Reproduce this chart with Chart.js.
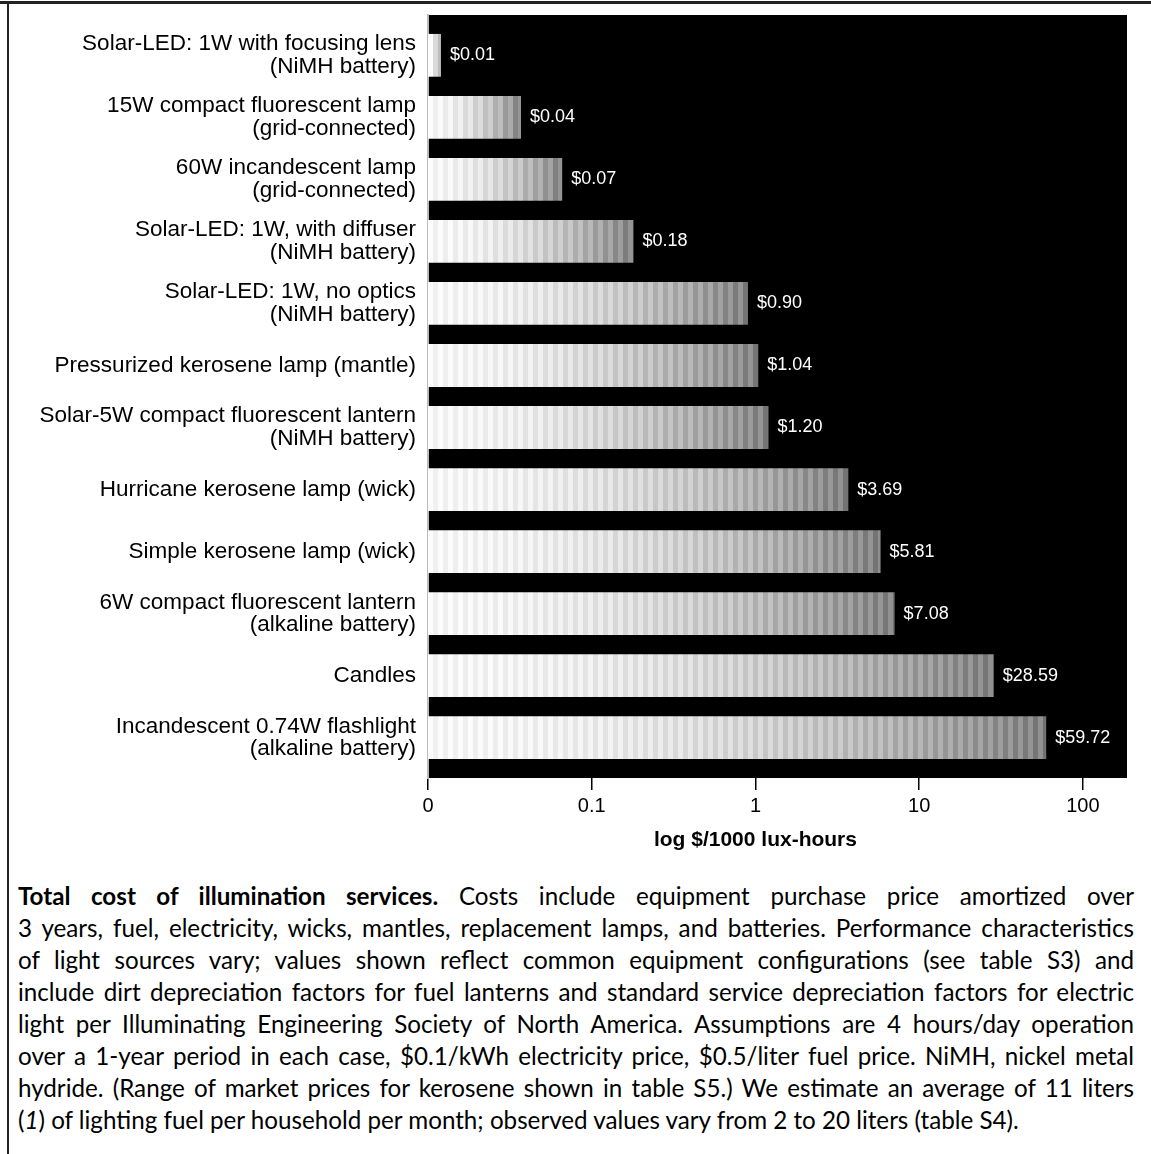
<!DOCTYPE html>
<html>
<head>
<meta charset="utf-8">
<script src="https://cdn.jsdelivr.net/npm/chart.js@4.4.1/dist/chart.umd.min.js"></script>
<style>
  html, body { margin: 0; padding: 0; background: #fff; }
  #page { position: relative; width: 1151px; height: 1154px; overflow: hidden; }
  #frameTop { position: absolute; left: 0; top: 1px; width: 1151px; height: 3px; background: #222; }
  #frameLeft { position: absolute; left: 7px; top: 1px; width: 2px; height: 1153px; background: #222; }
  #myChart { position: absolute; left: 0; top: 0; }
  #caption { position: absolute; left: 18px; top: 880px; width: 1116px;
    font-family: Lato, 'Open Sans', sans-serif; font-size: 24.2px; line-height: 32px; color: #000; }
  #caption div { text-align: justify; text-align-last: justify; white-space: nowrap; }
  #caption div.last { text-align-last: left; }
</style>
</head>
<body>
<div id="page">
  <div id="frameTop"></div>
  <div id="frameLeft"></div>
  <canvas id="myChart" width="1151" height="870"></canvas>
  <div id="caption">
    <div><b>Total cost of illumination services.</b> Costs include equipment purchase price amortized over</div>
    <div>3 years, fuel, electricity, wicks, mantles, replacement lamps, and batteries. Performance characteristics</div>
    <div>of light sources vary; values shown reflect common equipment configurations (see table S3) and</div>
    <div>include dirt depreciation factors for fuel lanterns and standard service depreciation factors for electric</div>
    <div>light per Illuminating Engineering Society of North America. Assumptions are 4 hours/day operation</div>
    <div>over a 1-year period in each case, $0.1/kWh electricity price, $0.5/liter fuel price. NiMH, nickel metal</div>
    <div>hydride. (Range of market prices for kerosene shown in table S5.) We estimate an average of 11 liters</div>
    <div class="last">(<i>1</i>) of lighting fuel per household per month; observed values vary from 2 to 20 liters (table S4).</div>
  </div>
</div>
<script>
const categories = [
    ['Solar-LED: 1W with focusing lens', '(NiMH battery)'],
    ['15W compact fluorescent lamp', '(grid-connected)'],
    ['60W incandescent lamp', '(grid-connected)'],
    ['Solar-LED: 1W, with diffuser', '(NiMH battery)'],
    ['Solar-LED: 1W, no optics', '(NiMH battery)'],
    'Pressurized kerosene lamp (mantle)',
    ['Solar-5W compact fluorescent lantern', '(NiMH battery)'],
    'Hurricane kerosene lamp (wick)',
    'Simple kerosene lamp (wick)',
    ['6W compact fluorescent lantern', '(alkaline battery)'],
    'Candles',
    ['Incandescent 0.74W flashlight', '(alkaline battery)']
];
// $ per 1000 lux-hours (bar ends, labels printed as $x.xx)
const costs = [0.012, 0.037, 0.066, 0.18, 0.90, 1.04, 1.20, 3.69, 5.81, 7.08, 28.59, 59.72];
const tickValues = [0.01, 0.1, 1, 10, 100];
const tickLabels = ['0', '0.1', '1', '10', '100'];
const axisTitle = 'log $/1000 lux-hours';

Chart.defaults.font.family = "'Liberation Sans', Arial, sans-serif";
Chart.defaults.color = '#000';

// striped grey fill, white at the left going darker toward the bar end
function barFill(ctx) {
    const chart = ctx.chart;
    const xs = chart.scales.x;
    if (!chart.chartArea || !xs || !ctx.raw) return '#ccc';
    const x0 = xs.getPixelForValue(xs.min);
    const x1 = xs.getPixelForValue(ctx.raw.x);
    const w = Math.max(x1 - x0, 1);
    const g = chart.ctx.createLinearGradient(x0, 0, x1, 0);
    const step = 5;
    for (let p = 0, k = 0; p < w; p += step, k++) {
        const t = p / w;
        let v = 246 - 110 * t * t;
        v += (k % 2) ? -18 * t - 6 : 6;
        v = Math.max(0, Math.min(255, Math.round(v)));
        const c = 'rgb(' + v + ',' + v + ',' + v + ')';
        g.addColorStop(Math.min(p / w, 1), c);
        g.addColorStop(Math.min((p + step) / w, 1), c);
    }
    return g;
}

const plotBackground = {
    id: 'plotBackground',
    beforeDraw(chart) {
        const a = chart.chartArea;
        const c = chart.ctx;
        c.save();
        c.fillStyle = '#000';
        c.fillRect(a.left, a.top, a.right - a.left, a.bottom - a.top);
        c.restore();
    }
};

const valueLabels = {
    id: 'valueLabels',
    afterDatasetsDraw(chart) {
        const c = chart.ctx;
        const meta = chart.getDatasetMeta(0);
        c.save();
        c.fillStyle = '#fff';
        c.font = "18px 'Liberation Sans', Arial, sans-serif";
        c.textBaseline = 'middle';
        c.textAlign = 'left';
        meta.data.forEach((bar, i) => {
            c.fillText('$' + costs[i].toFixed(2), bar.x + 9, bar.y);
        });
        c.restore();
    }
};

const xTitle = {
    id: 'xTitle',
    afterDraw(chart) {
        const xs = chart.scales.x;
        const c = chart.ctx;
        const cx = (xs.getPixelForValue(tickValues[0]) + xs.getPixelForValue(tickValues[tickValues.length - 1])) / 2;
        c.save();
        c.fillStyle = '#000';
        c.font = "bold 21px 'Liberation Sans', Arial, sans-serif";
        c.textAlign = 'center';
        c.textBaseline = 'middle';
        c.fillText(axisTitle, cx, xs.top + 62);
        c.restore();
    }
};

const data = {
    datasets: [{
        data: categories.map((c, i) => ({ x: costs[i], y: i })),
        backgroundColor: barFill,
        borderWidth: 0,
        barPercentage: 0.69,
        categoryPercentage: 1
    }]
};

const config = {
    type: 'bar',
    data: data,
    options: {
        indexAxis: 'y',
        responsive: false,
        animation: false,
        layout: { padding: { top: 15, right: 24, left: 0, bottom: 0 } },
        plugins: {
            legend: { display: false },
            tooltip: { enabled: false }
        },
        scales: {
            x: {
                type: 'logarithmic',
                min: 0.01,
                max: 186,
                afterBuildTicks: (scale) => { scale.ticks = tickValues.map(v => ({ value: v })); },
                afterFit: (scale) => {
                    scale.height = 92;
                    scale.paddingLeft = 0;
                    scale.paddingRight = 0;
                },
                ticks: {
                    callback: (v, i) => tickLabels[i],
                    font: { size: 20 },
                    padding: 4,
                    maxRotation: 0,
                    autoSkip: false
                },
                grid: {
                    drawOnChartArea: false,
                    tickLength: 12,
                    color: '#000',
                    lineWidth: 1.5
                },
                border: { display: false }
            },
            y: {
                type: 'linear',
                reverse: true,
                offset: false,
                min: -0.65,
                max: 11.65,
                afterBuildTicks: (scale) => { scale.ticks = categories.map((c, i) => ({ value: i })); },
                afterFit: (scale) => {
                    scale.width = 428;
                    scale.paddingTop = 0;
                    scale.paddingBottom = 0;
                },
                ticks: {
                    callback: (v) => categories[v],
                    font: { size: 22.5, lineHeight: 1.0 },
                    padding: 4,
                    autoSkip: false
                },
                grid: { display: false, offset: false },
                border: { display: true, color: '#bbb', width: 2 }
            }
        }
    },
    plugins: [plotBackground, valueLabels, xTitle]
};

const myChart = new Chart(document.getElementById('myChart'), config);
</script>
</body>
</html>
